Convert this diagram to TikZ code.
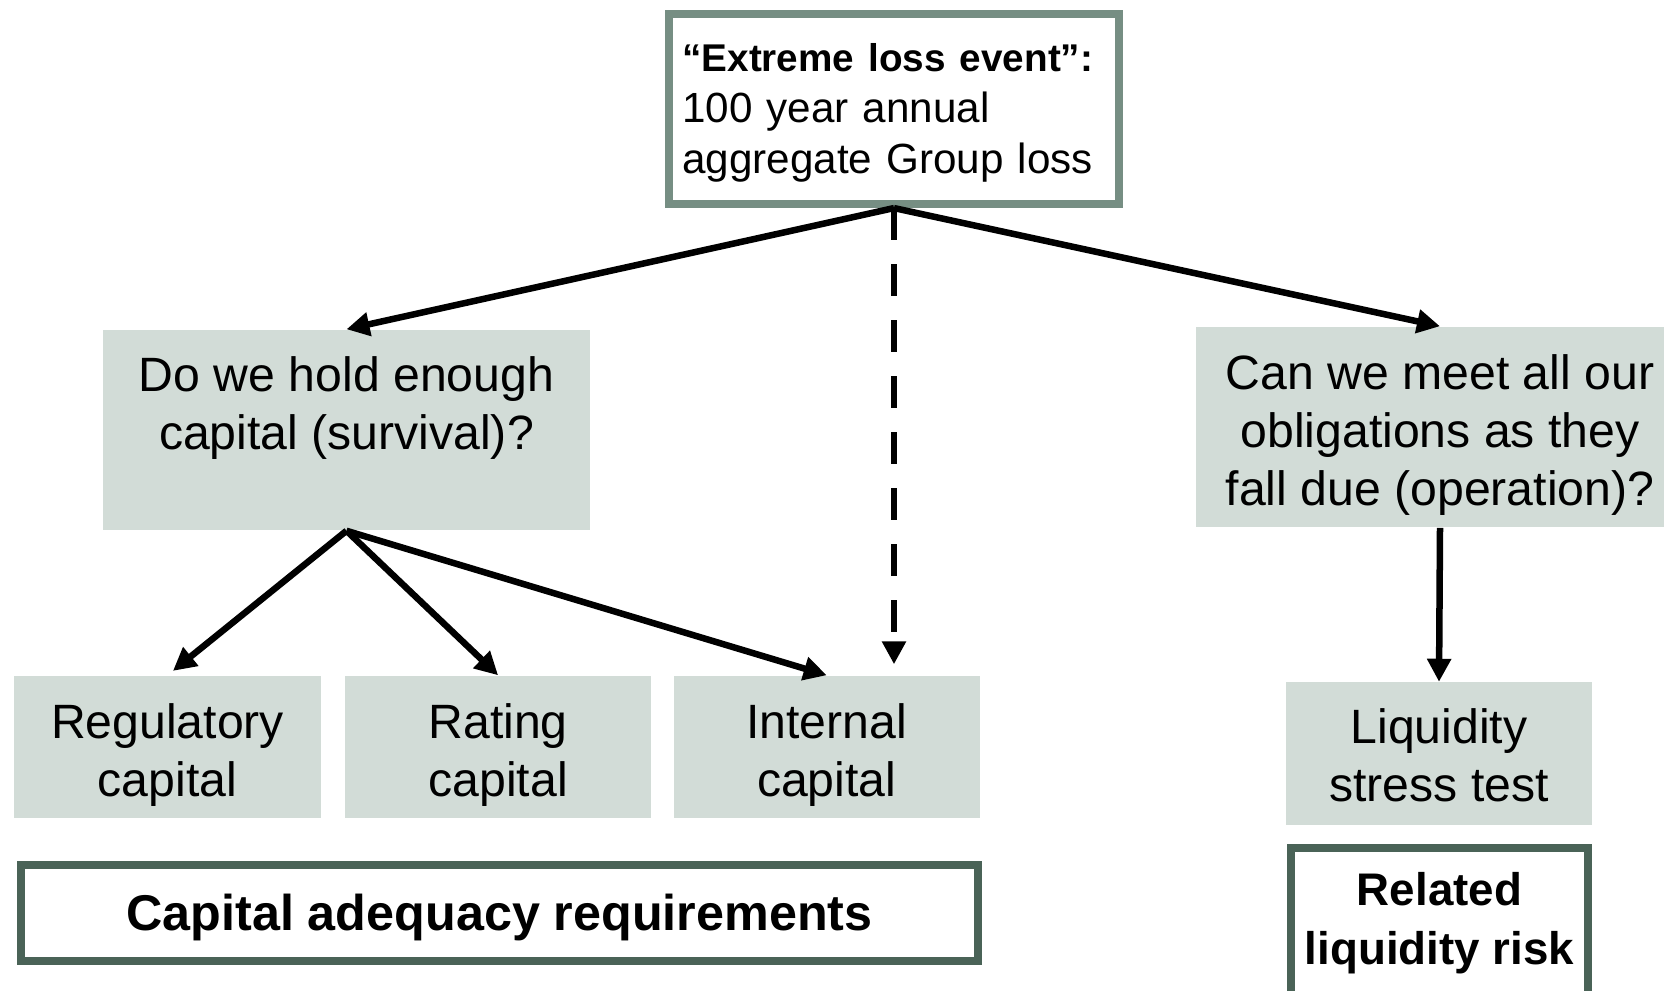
\documentclass[tikz,border=0pt]{standalone}
\usepackage{fontspec}
\setmainfont{Liberation Sans}
\usetikzlibrary{arrows.meta, positioning}
\definecolor{boxgray}{HTML}{D2DCD7}
\definecolor{framelight}{HTML}{768E83}
\definecolor{framedark}{HTML}{4A6357}
\tikzstyle{arrow} = [line width=0.065cm, -{Triangle[length=0.23cm, width=0.23cm]}]

\begin{document}
\begin{tikzpicture}[x=0.01cm, y=-0.01cm, every node/.style={font=\fontsize{13.7}{16.5}\selectfont, align=center}]
    % Define styles
    \tikzset{
        box/.style={rectangle, fill=boxgray, inner sep=0pt},
        ask_box/.style={box, minimum width=4.87cm, minimum height=2cm},
        cap_box/.style={box, minimum width=3.06cm, minimum height=1.42cm},
        frame_box/.style={rectangle, draw=framedark, line width=0.08cm, fill=white, inner sep=0pt, font=\fontsize{14.3}{17}\selectfont\bfseries}
    }
    \useasboundingbox (0,0) rectangle (1664,990);
    \clip (0,0) rectangle (1664,990);

    % A: Loss event
    \node (A) [rectangle, draw=framelight, line width=0.08cm, fill=white, minimum width=4.5cm, minimum height=1.9cm, text width=4.23cm, align=left, inner sep=0.135cm, font=\fontsize{12}{14.5}\selectfont] at (894,109) {\rule{0pt}{10.2pt}{\fontsize{11}{14.5}\selectfont\bfseries “Extreme loss event”:}\\100 year annual\\aggregate Group loss};

    % B: Survival question
    \node (B) [ask_box] at (346.5,430) {\rule{0pt}{11pt}Do we hold enough\\capital (survival)?\\\mbox{}};

    % C: Operation question
    \node (C) [ask_box, minimum width=4.88cm] at (1440,427) {\rule{0pt}{14.6pt}Can we meet all our\\obligations as they\\fall due (operation)?};

    % D, E, F: Capital measures
    \node (D) [cap_box] at (167.5,747) {\rule{0pt}{14.6pt}Regulatory\\capital};
    \node (E) [cap_box, right=0.23cm of D] {\rule{0pt}{14.6pt}Rating\\capital};
    \node (F) [cap_box, right=0.21cm of E] {\rule{0pt}{14.6pt}Internal\\capital};

    % G: Stress test
    \node (G) [cap_box] at (1439,753.5) {\rule{0pt}{11pt}Liquidity\\stress test};

    % H, I: Framed results
    \node (H) [frame_box, minimum width=9.57cm, minimum height=0.96cm] at (499.5,913) {\rule{0pt}{12.8pt}Capital adequacy requirements};
    \node (I) [frame_box, minimum width=2.97cm, minimum height=1.5cm, font=\fontsize{13}{16.8}\selectfont\bfseries] at (1439.5,923) {Related\\liquidity risk};

    % Connections
    \draw[arrow] (A.south) -- (B.north);
    \draw[arrow] (A.south) -- (C.north);
    \draw[arrow, dash pattern=on 0.32cm off 0.24cm, shorten >=0.11cm] (A.south) -- (A.south |- F.north);
    \draw[arrow, shorten >=0.07cm] (B.south) -- (D.north);
    \draw[arrow] (B.south) -- (E.north);
    \draw[arrow] (B.south) -- (F.north);
    \draw[arrow] (C.south) -- (G.north);

\end{tikzpicture}
\end{document}
